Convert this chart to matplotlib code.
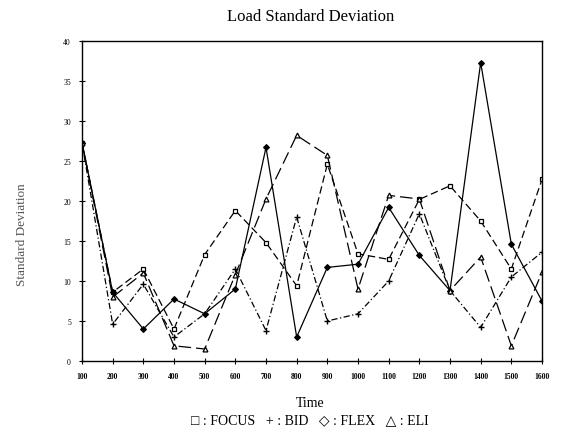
import matplotlib
matplotlib.use("Agg")
import matplotlib.pyplot as plt

# values
times = [100, 200, 300, 400, 500, 600, 700, 800, 900, 1000, 1100, 1200, 1300, 1400, 1500, 1600]
focus = [27.3, 8.6, 11.5, 4.0, 13.3, 18.8, 14.8, 9.4, 24.6, 13.4, 12.7, 20.2, 21.9, 17.5, 11.5, 22.7]
bid = [27.3, 4.6, 9.6, 3.0, 5.9, 11.5, 3.8, 18.0, 5.0, 5.9, 10.0, 18.4, 8.8, 4.2, 10.5, 13.6]
flex = [27.3, 8.6, 4.0, 7.75, 5.9, 9.0, 26.7, 3.0, 11.7, 12.1, 19.2, 13.2, 8.8, 37.3, 14.6, 7.5]
eli = [27.3, 8.0, 11.0, 1.9, 1.5, 10.8, 20.25, 28.2, 25.7, 9.0, 20.7, 20.25, 8.8, 13.0, 1.9, 11.1]
y_ticks = [0, 5, 10, 15, 20, 25, 30, 35, 40]

serif = ["Liberation Serif", "DejaVu Serif", "DejaVu Sans"]
plt.rcParams["font.family"] = serif

fig = plt.figure(figsize=(5.62, 4.35), dpi=100)
ax = fig.add_axes([82 / 562, 73 / 435, 460 / 562, 320 / 435])

ax.plot(times, focus, color="black", lw=0.9, ls=(0, (6, 3)),
        marker="s", ms=3.5, mfc="white", mew=0.9)
ax.plot(times, bid, color="black", lw=0.9, ls=(0, (5, 2, 1, 2)),
        marker="+", ms=4.5, mew=1.0)
ax.plot(times, flex, color="black", lw=0.9, ls="-",
        marker="D", ms=3, mfc="black", mew=0.8)
ax.plot(times, eli, color="black", lw=0.9, ls=(0, (10, 4)),
        marker="^", ms=3.5, mfc="white", mew=0.9)

ax.set_xlim(100, 1600)
ax.set_ylim(0, 40)
ax.set_xticks(times)
ax.set_xticklabels([str(t) for t in times], fontsize=5.5, fontweight="bold")
ax.set_yticks(y_ticks)
ax.set_yticklabels([str(v) for v in y_ticks], fontsize=5.5)
ax.tick_params(direction="inout", length=4, width=0.8, pad=6)
for side in ["left", "right", "top", "bottom"]:
    ax.spines[side].set_linewidth(1.0)

fig.text(0.552, 0.962, "Load Standard Deviation", ha="center", va="center", fontsize=12)
fig.text(0.04, 0.46, "Standard Deviation", rotation=90, ha="center", va="center",
         fontsize=9.5, color="#555555")
fig.text(0.552, 0.073, "Time", ha="center", va="center", fontsize=10)
fig.text(0.552, 0.034, "\u25a1 : FOCUS   + : BID   \u25c7 : FLEX   \u25b3 : ELI",
         ha="center", va="center", fontsize=10, family=serif)

fig.savefig("out.png", dpi=100)
